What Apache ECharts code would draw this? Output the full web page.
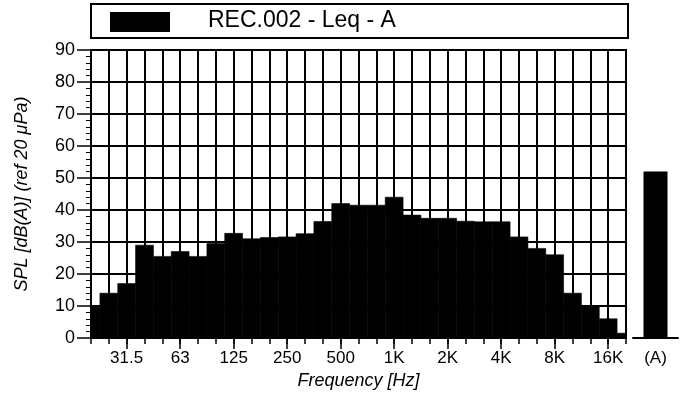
<!DOCTYPE html>
<html>
<head>
<meta charset="utf-8">
<script src="https://cdn.jsdelivr.net/npm/echarts@6/dist/echarts.min.js"></script>
<style>
html,body{margin:0;padding:0;background:#fff;}
#chart{width:687px;height:396px;}
</style>
</head>
<body>
<div id="chart"></div>
<script>
// 1/3-octave band centre frequencies
const categories = ['20','25','31.5','40','50','63','80','100','125','160','200','250','315','400','500','630','800','1K','1.25K','1.6K','2K','2.5K','3.15K','4K','5K','6.3K','8K','10K','12.5K','16K','20K'];
// labelled octave ticks
const tickLabels = ['31.5','63','125','250','500','1K','2K','4K','8K','16K'];
// SPL per band, dB(A)
const splValues = [10, 14, 17, 29, 25.5, 27, 25.5, 29.5, 32.7, 31, 31.4, 31.6, 32.6, 36.4, 42, 41.5, 41.5, 44, 38.4, 37.4, 37.4, 36.5, 36.3, 36.3, 31.6, 28, 26, 14, 10, 6, 1.5];
// overall A-weighted level
const totalCategory = ['(A)'];
const totalValue = [52];
const seriesName = 'REC.002 - Leq - A';

const FONT = 'Liberation Sans, Arial, Helvetica, sans-serif';
const isMajor = (i, v) => tickLabels.indexOf(v) >= 0;

const chart = echarts.init(document.getElementById('chart'), null, {renderer: 'canvas'});
chart.setOption({
  animation: false,
  backgroundColor: '#fff',
  textStyle: {fontFamily: FONT, color: '#000'},
  grid: [
    {left: 91, right: 61, top: 50, bottom: 58, show: true, borderColor: '#000', borderWidth: 2, containLabel: false},
    {left: 633, width: 45, top: 50, bottom: 58, containLabel: false}
  ],
  xAxis: [
    {
      type: 'category', gridIndex: 0, data: categories, boundaryGap: false, position: 'bottom',
      axisLine: {show: true, lineStyle: {color: '#000', width: 2}},
      axisTick: {show: true, interval: 0, length: 6, lineStyle: {color: '#000', width: 1.5}},
      axisLabel: {show: false},
      splitLine: {show: true, interval: 0, lineStyle: {color: '#000', width: 2}},
      z: 5
    },
    {
      type: 'category', gridIndex: 0, data: categories, boundaryGap: false, position: 'bottom',
      axisLine: {show: false},
      axisTick: {show: true, interval: isMajor, length: 11, lineStyle: {color: '#000', width: 1.5}},
      axisLabel: {show: true, interval: isMajor, margin: 12, fontSize: 17, color: '#000', fontFamily: FONT},
      splitLine: {show: false},
      name: 'Frequency [Hz]', nameLocation: 'middle', nameGap: 30,
      nameTextStyle: {fontSize: 18, fontStyle: 'italic', color: '#000', fontFamily: FONT}
    },
    {
      type: 'category', gridIndex: 1, data: totalCategory, boundaryGap: true, position: 'bottom',
      axisLine: {show: true, lineStyle: {color: '#000', width: 2}},
      axisTick: {show: false},
      axisLabel: {show: true, margin: 12, fontSize: 17, color: '#000', fontFamily: FONT},
      splitLine: {show: false}
    }
  ],
  yAxis: [
    {
      type: 'value', gridIndex: 0, min: 0, max: 90, interval: 10,
      axisLine: {show: true, lineStyle: {color: '#000', width: 2}},
      axisTick: {show: true, length: 14, lineStyle: {color: '#000', width: 1.5}},
      minorTick: {show: true, splitNumber: 5, length: 5, lineStyle: {color: '#000', width: 1}},
      axisLabel: {show: true, margin: 16, fontSize: 18, color: '#000', fontFamily: FONT},
      splitLine: {show: true, lineStyle: {color: '#000', width: 2}},
      name: 'SPL [dB(A)] (ref 20 \u03bcPa)', nameLocation: 'middle', nameGap: 60, nameRotate: 90,
      nameTextStyle: {fontSize: 18, fontStyle: 'italic', color: '#000', fontFamily: FONT}
    },
    {
      type: 'value', gridIndex: 1, min: 0, max: 90, show: false
    }
  ],
  series: [
    {
      name: seriesName, type: 'custom', xAxisIndex: 0, yAxisIndex: 0,
      data: splValues.map((v, i) => [i, v]),
      encode: {x: 0, y: 1},
      z: 1,
      renderItem: function (params, api) {
        const idx = api.value(0);
        const val = api.value(1);
        const top = api.coord([idx, val]);
        const base = api.coord([idx, 0]);
        const w = api.size([1, 0])[0];
        const cs = params.coordSys;
        const rect = echarts.graphic.clipRectByRect(
          {x: top[0] - w / 2, y: top[1], width: w, height: base[1] - top[1]},
          {x: cs.x, y: cs.y, width: cs.width, height: cs.height}
        );
        if (!rect) return null;
        return {type: 'rect', shape: rect, style: {fill: '#000', stroke: '#000', lineWidth: 0.6}};
      }
    },
    {
      name: 'total', type: 'bar', xAxisIndex: 2, yAxisIndex: 1, data: totalValue,
      barWidth: 24, itemStyle: {color: '#000'}
    }
  ],
  graphic: [
    {type: 'rect', left: 90, top: 3, shape: {width: 537, height: 34}, style: {fill: '#fff', stroke: '#000', lineWidth: 2}, z: 10},
    {type: 'rect', left: 110, top: 12, shape: {width: 60, height: 20}, style: {fill: '#000'}, z: 11},
    {type: 'text', x: 208, y: 21, style: {text: seriesName, fontSize: 23, fontFamily: FONT, fill: '#000', verticalAlign: 'middle'}, z: 11}
  ]
});
</script>
</body>
</html>
